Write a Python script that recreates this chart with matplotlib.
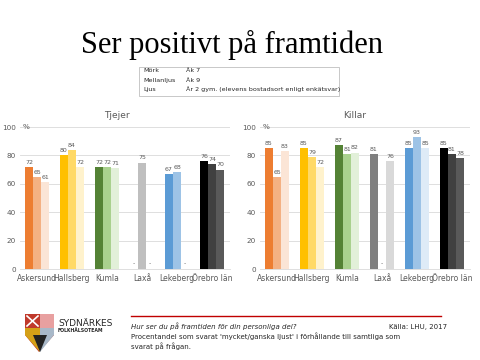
import matplotlib
matplotlib.use("Agg")
import numpy as np
import matplotlib.pyplot as plt
from matplotlib.patches import Rectangle, Polygon

municipalities = ["Askersund", "Hallsberg", "Kumla", "Laxå", "Lekeberg", "Örebro län"]
nan = np.nan
# order per municipality: Åk 7, Åk 9, År 2 gym.
girls = [[72, 65, 61], [80, 84, 72], [72, 72, 71], [nan, 75, nan], [67, 68, nan], [76, 74, 70]]
boys = [[85, 65, 83], [85, 79, 72], [87, 81, 82], [81, nan, 76], [85, 93, 85], [85, 81, 78]]

colors = [
    ["#ED7D31", "#F4B183", "#FBE5D6"],
    ["#FFC000", "#FFD966", "#FFF2CC"],
    ["#548235", "#A9D18E", "#E2F0D9"],
    ["#7F7F7F", "#BFBFBF", "#D9D9D9"],
    ["#5B9BD5", "#9DC3E6", "#DEEBF7"],
    ["#000000", "#404040", "#595959"],
]

W, H = 480, 360
fig = plt.figure(figsize=(4.8, 3.6), dpi=100)
fig.patch.set_facecolor("white")

def px(x, y):
    return x / W, 1 - y / H

fig.text(*px(232, 45), "Ser positivt på framtiden", ha="center", va="center",
         fontsize=22, family="Liberation Serif")

# legend box
fig.patches.append(Rectangle(px(139, 96), 200 / W, 29 / H, transform=fig.transFigure,
                             facecolor="white", edgecolor="#BFBFBF", lw=0.6))
leg = [("Mörk", "Åk 7"), ("Mellanljus", "Åk 9"),
       ("Ljus", "År 2 gym. (elevens bostadsort enligt enkätsvar)")]
for i, (a, b) in enumerate(leg):
    fig.text(*px(143, 71 + i * 9.3), a, fontsize=4.6, va="center", color="#262626")
    fig.text(*px(186, 71 + i * 9.3), b, fontsize=4.6, va="center", color="#262626")

bw = 0.23
x = np.arange(len(municipalities))

def panel(left_px, data, title, title_x):
    ax = fig.add_axes([left_px / W, 1 - 269 / H, 210 / W, 142 / H])
    for i, vals in enumerate(data):
        for j, v in enumerate(vals):
            xp = x[i] + (j - 1) * bw
            if np.isnan(v):
                ax.text(xp, 2, "-", ha="center", va="bottom", fontsize=4.5, color="#595959")
                continue
            ax.bar(xp, v, width=bw, color=colors[i][j], zorder=3)
            ax.text(xp, v + 1.5, f"{v:.0f}", ha="center", va="bottom", fontsize=4.5,
                    color="#595959")
    ax.set_xlim(-0.5, 5.5)
    ax.set_ylim(0, 100)
    ax.set_yticks([0, 20, 40, 60, 80, 100])
    ax.set_yticklabels(["0", "20", "40", "60", "80", "100"])
    ax.set_xticks(x)
    ax.set_xticklabels(municipalities)
    ax.tick_params(axis="both", length=0, labelsize=5.5, colors="#595959")
    ax.tick_params(axis="y", pad=2.5, labelsize=5.2)
    ax.grid(axis="y", color="#D9D9D9", lw=0.6, zorder=0)
    for s in ["top", "right", "left"]:
        ax.spines[s].set_visible(False)
    ax.spines["bottom"].set_color("#D9D9D9")
    ax.spines["bottom"].set_linewidth(0.6)
    ax.text(-0.42, 100, "%", ha="left", va="center", fontsize=5.2, color="#595959")
    fig.text(*px(title_x, 115), title, ha="center", va="center", fontsize=6.5, color="#595959")
    return ax

panel(19.5, girls, "Tjejer", 117)
panel(259.5, boys, "Killar", 355)

# footer
fig.add_artist(plt.Line2D([131 / W, 441 / W], [1 - 316 / H] * 2, color="#C00000", lw=1.0))
fig.text(*px(131, 326), "Hur ser du på framtiden för din personliga del?", fontsize=5,
         style="italic", va="center", color="#262626")
fig.text(*px(131, 336), "Procentandel som svarat 'mycket/ganska ljust' i förhållande till samtliga som",
         fontsize=5, va="center", color="#262626")
fig.text(*px(131, 346), "svarat på frågan.", fontsize=5, va="center", color="#262626")
fig.text(*px(389, 327), "Källa: LHU, 2017", fontsize=5, va="center", color="#262626")

# logo (simplified shield)
def poly(pts, fc):
    fig.patches.append(Polygon([px(a, b) for a, b in pts], closed=True,
                               transform=fig.transFigure, facecolor=fc, edgecolor="none"))
poly([(25, 314), (54, 314), (54, 335), (39, 352), (25, 335)], "#C0392B")
poly([(40, 314), (54, 314), (54, 328), (40, 328)], "#E8A0A0")
poly([(25, 328), (40, 328), (40, 352), (25, 335)], "#D4A017")
poly([(40, 328), (54, 328), (54, 335), (40, 352)], "#A8B8C8")
poly([(33, 335), (47, 335), (40, 352)], "#222222")
fig.add_artist(plt.Line2D([27 / W, 38 / W], [1 - 316 / H, 1 - 326 / H], color="white", lw=1.2))
fig.add_artist(plt.Line2D([27 / W, 38 / W], [1 - 326 / H, 1 - 316 / H], color="white", lw=1.2))
fig.text(*px(58, 323), "SYDNÄRKES", fontsize=6.5, va="center", color="#262626")
fig.text(*px(58, 331), "FOLKHÄLSOTEAM", fontsize=3.3, va="center", color="#262626",
         weight="bold")

fig.savefig("out.png", dpi=100)
